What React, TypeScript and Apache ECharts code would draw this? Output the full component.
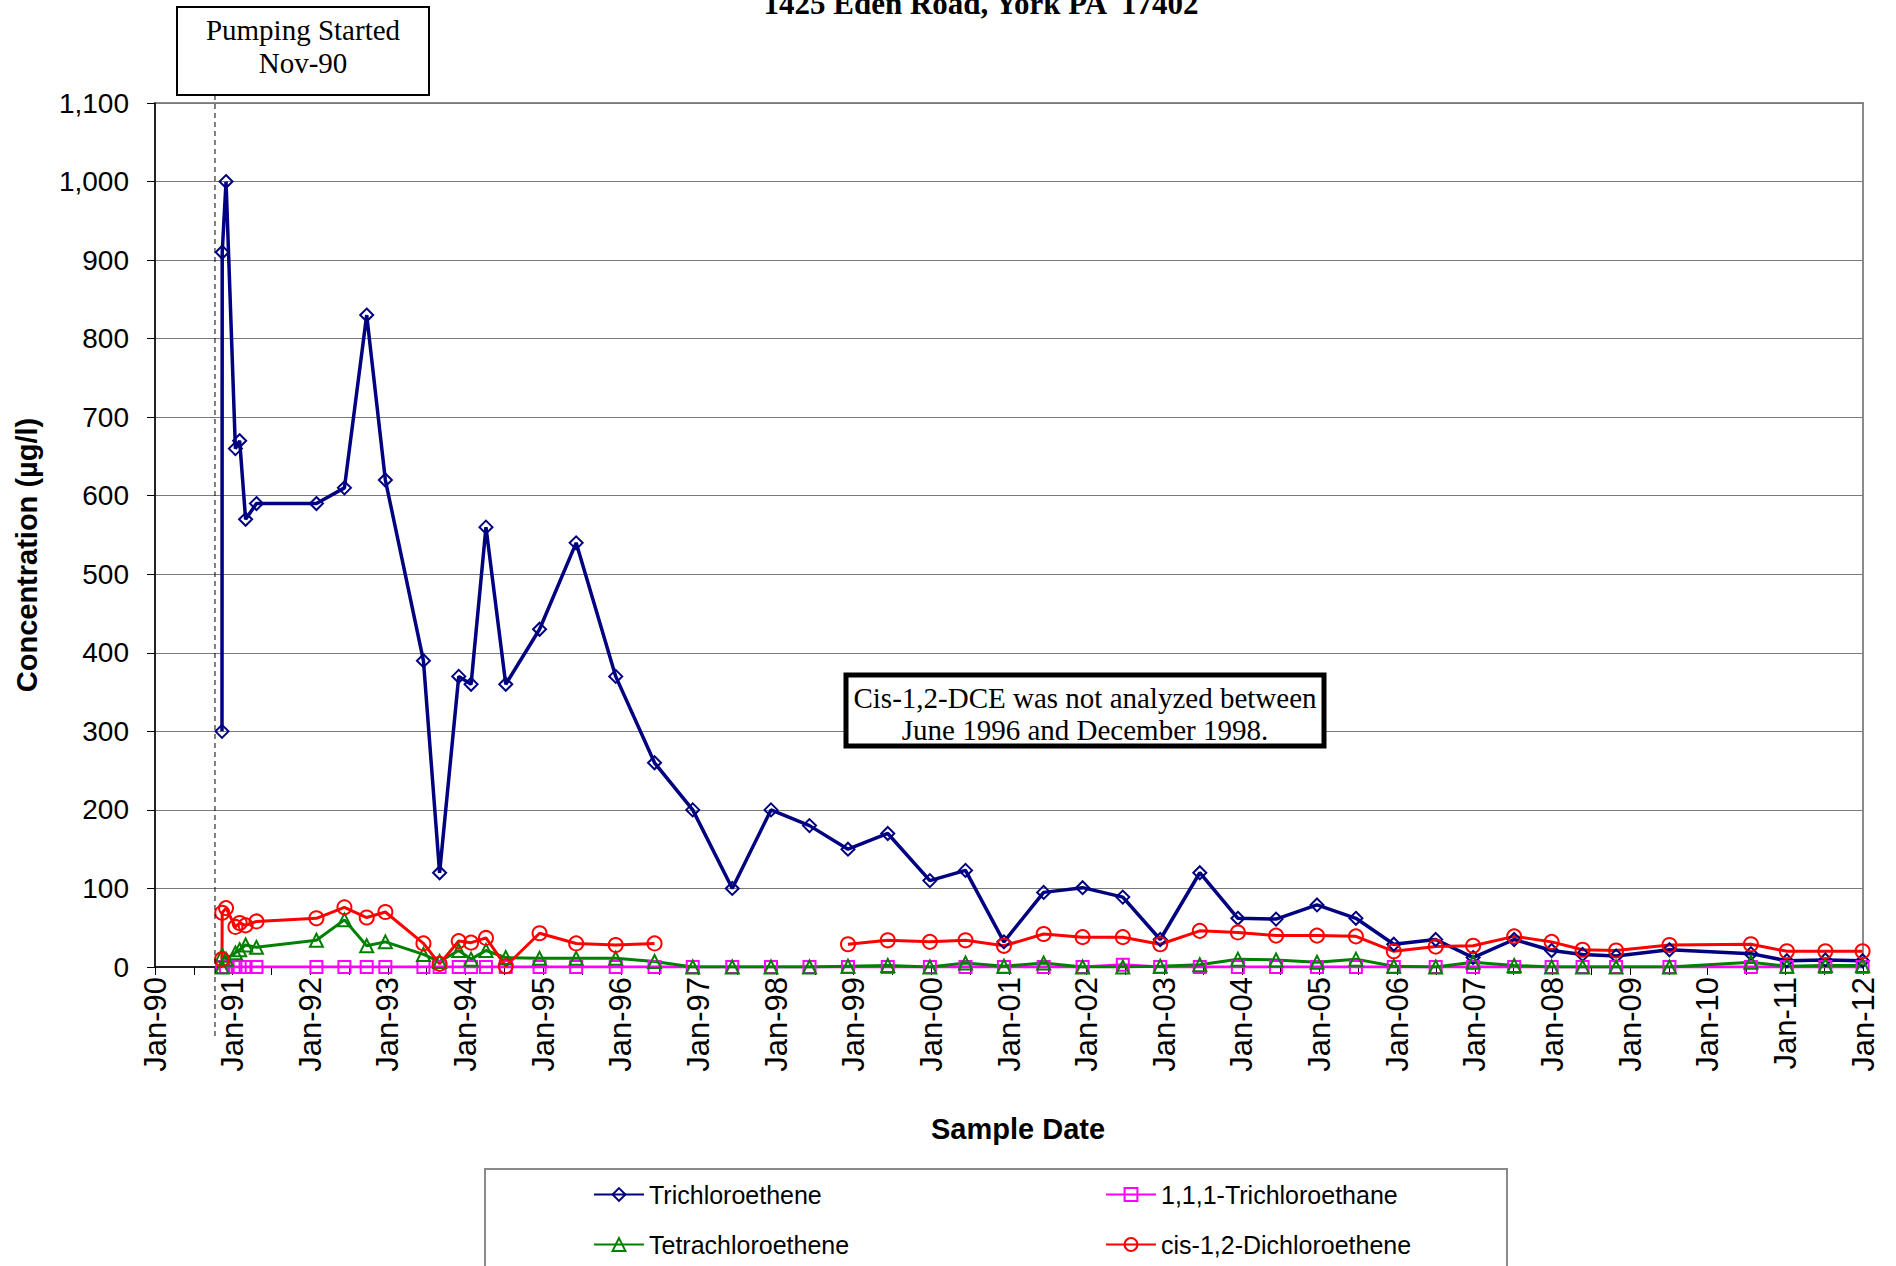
import React, { useEffect, useRef } from "react";
import * as echarts from "echarts";

// ---- Data ----
const sampleDates = [
  "1990-11-12", "1990-11-13", "1990-12-01", "1991-01-14", "1991-02-03", "1991-03-03", "1991-04-23",
  "1992-01-30", "1992-06-10", "1992-09-23", "1992-12-20", "1993-06-17", "1993-09-01", "1993-11-30",
  "1994-01-27", "1994-04-07", "1994-07-09", "1994-12-15", "1995-06-05", "1995-12-08", "1996-06-08",
  "1996-12-05", "1997-06-09", "1997-12-08", "1998-06-07", "1998-12-05", "1999-06-10", "1999-12-25",
  "2000-06-10", "2000-12-08", "2001-06-13", "2001-12-13", "2002-06-20", "2002-12-13", "2003-06-17",
  "2003-12-13", "2004-06-10", "2004-12-20", "2005-06-21", "2005-12-16", "2006-07-01", "2006-12-24",
  "2007-07-05", "2007-12-28", "2008-05-22", "2008-10-27", "2009-07-05", "2010-07-23", "2011-01-08",
  "2011-07-08", "2011-12-30",
];

const trichloroethene = [
  300, 910, 1000, 660, 670, 570, 590,
  590, 610, 830, 620, 390, 120, 370,
  360, 560, 360, 430, 540, 370, 260,
  200, 100, 200, 180, 150, 170, 110,
  123, 32, 95, 101, 89, 35, 120,
  62, 61, 79, 62, 29, 35, 12,
  35, 21, 16, 14, 22, 17, 8,
  9, 8,
];

const trichloroethane111 = [
  0, 0, 0, 0, 0, 0, 0,
  0, 0, 0, 0, 0, 0, 0,
  0, 0, 0, 0, 0, 0, 0,
  0, 0, 0, 0, 0, 0, 0,
  0, 0, 0, 0, 3, 0, 0,
  0, 0, 0, 0, 0, 0, 0,
  0, 0, 0, 0, 0, 0, 0,
  0, 0,
];

const tetrachloroethene = [
  0, 15, 10, 18, 22, 28, 25,
  34, 60, 27, 32, 16, 7, 21,
  10, 21, 12, 11, 11, 11, 7,
  0, 0, 0, 0, 1, 2, 0,
  5, 1, 5, 0, 0, 1, 3,
  10, 9, 6, 10, 1, 0, 6,
  2, 0, 0, 0, 0, 6, 1,
  2, 2,
];

const cisDichloroethene: (number | null)[] = [
  10, 69, 75, 51, 56, 53, 58,
  62, 76, 63, 70, 30, 4, 33,
  31, 37, 1, 43, 30, 28, 30,
  null, null, null, null, 29, 34, 32,
  34, 27, 42, 38, 38, 29, 46,
  44, 40, 40, 39, 20, 26, 27,
  39, 32, 22, 21, 28, 29, 20,
  20, 20,
];

const xMinYear = 1990;
const xMaxYear = 2012;
const yTicksMax = 1100;
const pumpStart = "1990-10-10";

const seriesNames = [
  "Trichloroethene",
  "1,1,1-Trichloroethane",
  "Tetrachloroethene",
  "cis-1,2-Dichloroethene",
];

function toYear(s: string): number {
  const [y, m, d] = s.split("-").map(Number);
  const start = Date.UTC(y, 0, 1);
  const end = Date.UTC(y + 1, 0, 1);
  return y + (Date.UTC(y, m - 1, d) - start) / (end - start);
}

function pairs(vals: (number | null)[]) {
  return sampleDates.map((d, i) => [toYear(d), vals[i] == null ? "-" : vals[i]]);
}

const SANS = "Liberation Sans, Arial, sans-serif";
const SERIF = "Liberation Serif, Times New Roman, serif";

export default function App() {
  const ref = useRef<HTMLDivElement>(null);

  useEffect(() => {
    if (!ref.current) return;
    const chart = echarts.init(ref.current, undefined, { renderer: "svg" });

    const mk = (
      name: string,
      vals: (number | null)[],
      color: string,
      symbol: string,
      size: number,
      lw: number
    ) => ({
      name,
      type: "line",
      data: pairs(vals),
      symbol,
      symbolSize: size,
      showSymbol: true,
      connectNulls: false,
      lineStyle: { color, width: lw },
      itemStyle: { color: "rgba(255,255,255,0)", borderColor: color, borderWidth: 2 },
      emphasis: { disabled: true },
    });

    const legendCommon = {
      orient: "vertical",
      itemWidth: 50,
      itemHeight: 16,
      itemGap: 25,
      textStyle: { fontSize: 25, fontFamily: SANS, color: "#000" },
      selectedMode: false,
    };

    chart.setOption({
      animation: false,
      backgroundColor: "#fff",
      grid: {
        left: 155,
        top: 103,
        width: 1708,
        height: 864,
        show: true,
        borderColor: "#8a8a8a",
        borderWidth: 2,
        containLabel: false,
      },
      xAxis: {
        type: "value",
        min: xMinYear,
        max: xMaxYear,
        interval: 1,
        axisLine: { show: true, onZero: false, lineStyle: { color: "#000", width: 1.5 } },
        axisTick: { show: true, length: 8, lineStyle: { color: "#000", width: 1 } },
        minorTick: { show: true, splitNumber: 2, length: 8, lineStyle: { color: "#000", width: 1 } },
        splitLine: { show: false },
        axisLabel: {
          rotate: 90,
          margin: 10,
          fontSize: 31,
          fontFamily: SANS,
          color: "#000",
          formatter: (v: number) => "Jan-" + String(Math.round(v) % 100).padStart(2, "0"),
        },
      },
      yAxis: {
        type: "value",
        min: 0,
        max: yTicksMax,
        interval: 100,
        axisLine: { show: true, lineStyle: { color: "#000", width: 1.5 } },
        axisTick: { show: true, length: 8, lineStyle: { color: "#000", width: 1 } },
        splitLine: { show: true, lineStyle: { color: "#7a7a7a", width: 1 } },
        axisLabel: {
          margin: 26,
          fontSize: 28,
          fontFamily: SANS,
          color: "#000",
          formatter: (v: number) => v.toLocaleString("en-US"),
        },
      },
      legend: [
        { ...legendCommon, data: [seriesNames[0], seriesNames[2]], left: 588, top: 1177 },
        { ...legendCommon, data: [seriesNames[1], seriesNames[3]], left: 1100, top: 1177 },
      ],
      series: [
        mk(seriesNames[0], trichloroethene, "#000080", "diamond", 13, 3.5),
        mk(seriesNames[1], trichloroethane111, "#FF00FF", "rect", 12, 3),
        mk(seriesNames[2], tetrachloroethene, "#008000", "triangle", 13, 3),
        mk(seriesNames[3], cisDichloroethene, "#FF0000", "circle", 14, 3),
      ],
    });

    const px = chart.convertToPixel({ xAxisIndex: 0 }, toYear(pumpStart)) as number;

    chart.setOption({
      graphic: [
        {
          type: "text",
          x: 981,
          y: 3,
          style: {
            text: "1425 Eden Road, York PA  17402",
            fontFamily: SERIF,
            fontWeight: "bold",
            fontSize: 31,
            fill: "#000",
            align: "center",
            verticalAlign: "middle",
          },
        },
        {
          type: "line",
          shape: { x1: px, y1: 95, x2: px, y2: 1038 },
          style: { stroke: "#000", lineWidth: 1, lineDash: [5, 4] },
          z: 5,
        },
        {
          type: "rect",
          shape: { x: 177, y: 7, width: 252, height: 88 },
          style: { fill: "#fff", stroke: "#000", lineWidth: 2 },
          z: 10,
        },
        {
          type: "text",
          x: 303,
          y: 30,
          z: 11,
          style: {
            text: "Pumping Started",
            fontFamily: SERIF,
            fontSize: 29,
            fill: "#000",
            align: "center",
            verticalAlign: "middle",
          },
        },
        {
          type: "text",
          x: 303,
          y: 63,
          z: 11,
          style: {
            text: "Nov-90",
            fontFamily: SERIF,
            fontSize: 29,
            fill: "#000",
            align: "center",
            verticalAlign: "middle",
          },
        },
        {
          type: "rect",
          shape: { x: 846, y: 675, width: 478, height: 71 },
          style: { fill: "#fff", stroke: "#000", lineWidth: 5 },
          z: 10,
        },
        {
          type: "text",
          x: 1085,
          y: 698,
          z: 11,
          style: {
            text: "Cis-1,2-DCE was not analyzed between",
            fontFamily: SERIF,
            fontSize: 29,
            fill: "#000",
            align: "center",
            verticalAlign: "middle",
          },
        },
        {
          type: "text",
          x: 1085,
          y: 730,
          z: 11,
          style: {
            text: "June 1996 and December 1998.",
            fontFamily: SERIF,
            fontSize: 29,
            fill: "#000",
            align: "center",
            verticalAlign: "middle",
          },
        },
        {
          type: "text",
          x: 27,
          y: 555,
          rotation: Math.PI / 2,
          style: {
            text: "Concentration (µg/l)",
            fontFamily: SANS,
            fontWeight: "bold",
            fontSize: 29,
            fill: "#000",
            align: "center",
            verticalAlign: "middle",
          },
        },
        {
          type: "text",
          x: 1018,
          y: 1129,
          style: {
            text: "Sample Date",
            fontFamily: SANS,
            fontWeight: "bold",
            fontSize: 29,
            fill: "#000",
            align: "center",
            verticalAlign: "middle",
          },
        },
        {
          type: "rect",
          shape: { x: 485, y: 1169, width: 1022, height: 150 },
          style: { fill: "none", stroke: "#8a8a8a", lineWidth: 2 },
          z: 1,
        },
      ],
    });

    return () => chart.dispose();
  }, []);

  return (
    <div
      ref={ref}
      style={{ position: "fixed", left: 0, top: 0, width: 1896, height: 1266 }}
    />
  );
}
